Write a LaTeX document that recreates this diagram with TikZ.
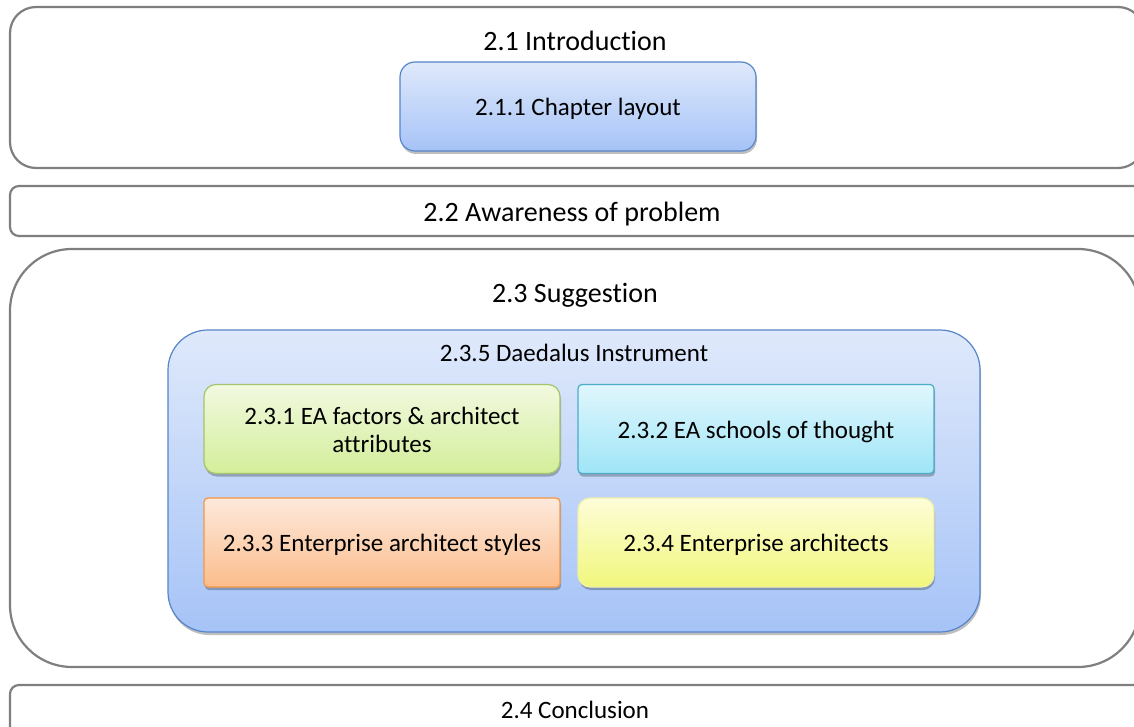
\documentclass[tikz,border=0pt]{standalone}
\usepackage{fontspec}
\setmainfont{Carlito}[Ligatures={NoCommon,NoContextual}, Contextuals={NoAlternate}]
\usetikzlibrary{shadows}

\definecolor{framegray}{HTML}{7F7F7F}
\definecolor{blueTop}{HTML}{DFE9FB}
\definecolor{blueBot}{HTML}{A6C3F7}
\definecolor{blueLine}{HTML}{5585C8}
\definecolor{greenTop}{HTML}{F2F9E0}
\definecolor{greenBot}{HTML}{D3EE9A}
\definecolor{greenLine}{HTML}{A3C46A}
\definecolor{cyanTop}{HTML}{E0F7FD}
\definecolor{cyanBot}{HTML}{9FE5F7}
\definecolor{cyanLine}{HTML}{4BACC6}
\definecolor{orangeTop}{HTML}{FDE9DC}
\definecolor{orangeBot}{HTML}{FBBD8C}
\definecolor{orangeLine}{HTML}{F79646}
\definecolor{yellowTop}{HTML}{FDFDD8}
\definecolor{yellowBot}{HTML}{F1F77C}
\definecolor{yellowLine}{HTML}{EEF0A8}

\tikzset{
  section/.style={draw=framegray, line width=2.2pt, fill=white, inner sep=0pt},
  title/.style={font=\fontsize{28}{32}\selectfont, inner sep=0pt, anchor=center},
  subtitle/.style={font=\fontsize{25}{28}\selectfont, inner sep=0pt, anchor=center, align=center},
  softshadow/.style={drop shadow={shadow xshift=1pt, shadow yshift=-3pt, opacity=0.25, fill=black}},
  topic/.style={rounded corners=12pt, line width=1.2pt, minimum width=356pt, minimum height=89pt,
    inner sep=0pt, softshadow},
}

\begin{document}
\begin{tikzpicture}[x=1pt, y=-1pt]
  \useasboundingbox (0,0) rectangle (1134,727);
  \clip (0,0) rectangle (1134,727);

  % Chapter sections (running off the right and bottom edges)
  \node[section, rounded corners=26pt, minimum width=1134pt, minimum height=161pt] (s21) at (577,87.5) {};
  \node[section, rounded corners=9pt, minimum width=1134pt, minimum height=50pt] (s22) at (577,211) {};
  \node[section, rounded corners=62pt, minimum width=1130pt, minimum height=418pt] (s23) at (575,458) {};
  \node[section, rounded corners=9pt, minimum width=1134pt, minimum height=60pt] (s24) at (577,715) {};

  \node[title] (t21) at (575,41) {2.1 Introduction};
  \node[title] (t22) at (572,214) {2.2 Awareness of problem};
  \node[title] (t23) at (575,295) {2.3 Suggestion};
  \node[subtitle] (t24) at (575,710) {2.4 Conclusion};

  % 2.1.1
  \node[topic, top color=blueTop, bottom color=blueBot, draw=blueLine, rounded corners=15pt,
        minimum width=356pt, minimum height=89pt] (c211) at (578,106.5) {};
  \node[subtitle] at ([yshift=-2pt]c211.center) {2.1.1 Chapter layout};

  % Daedalus instrument container
  \node[top color=blueTop, bottom color=blueBot, draw=blueLine, line width=1.2pt,
        rounded corners=40pt, minimum width=812pt, minimum height=302pt, inner sep=0pt,
        softshadow] (d235) at (574,481) {};
  \node[subtitle] (t235) at (574,353) {2.3.5 Daedalus Instrument};

  \node[topic, top color=greenTop, bottom color=greenBot, draw=greenLine] (c231) at (382,429) {};
  \node[subtitle] at ([yshift=-1pt]c231.center) {2.3.1 EA factors \& architect\\attributes};

  \node[topic, top color=cyanTop, bottom color=cyanBot, draw=cyanLine, rounded corners=4pt] (c232) at (756,429) {};
  \node[subtitle] at ([yshift=-2.5pt]c232.center) {2.3.2 EA schools of thought};

  \node[topic, top color=orangeTop, bottom color=orangeBot, draw=orangeLine, rounded corners=4pt] (c233) at (382,542.5) {};
  \node[subtitle] at ([yshift=-2pt]c233.center) {2.3.3 Enterprise architect styles};

  \node[topic, top color=yellowTop, bottom color=yellowBot, draw=yellowLine] (c234) at (756,542.5) {};
  \node[subtitle] at ([yshift=-2pt]c234.center) {2.3.4 Enterprise architects};
\end{tikzpicture}
\end{document}
